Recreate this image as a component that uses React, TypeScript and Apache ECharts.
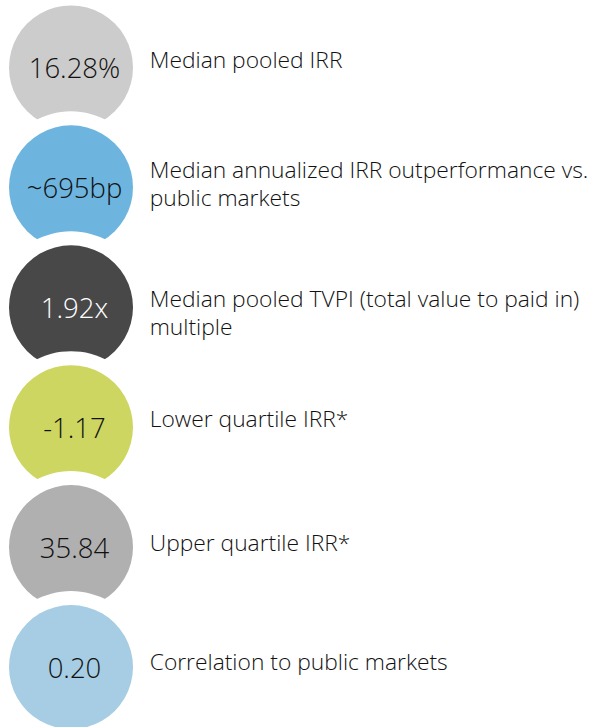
import React, { useEffect, useRef } from "react";
import * as echarts from "echarts";

const valueLabels = ["16.28%", "~695bp", "1.92x", "-1.17", "35.84", "0.20"];
const descriptions = [
  "Median pooled IRR",
  "Median annualized IRR outperformance vs.\npublic markets",
  "Median pooled TVPI (total value to paid in)\nmultiple",
  "Lower quartile IRR*",
  "Upper quartile IRR*",
  "Correlation to public markets",
];
const rowIndex = [0, 1, 2, 3, 4, 5];

const circleColors = ["#cccccc", "#6db5de", "#484848", "#ced662", "#b0b0b0", "#a6cde3"];
const valueTextColors = ["#111111", "#111111", "#ffffff", "#111111", "#111111", "#111111"];
const descOffsets = [-8, -4, 5, -9, -5, -6];

const FONT = "'Open Sans', 'Noto Sans', sans-serif";

export default function App() {
  const ref = useRef<HTMLDivElement>(null);
  useEffect(() => {
    document.body.style.margin = "0";
    if (!ref.current) return;
    const chart = echarts.init(ref.current, undefined, { renderer: "svg" });
    chart.setOption({
      animation: false,
      backgroundColor: "#ffffff",
      grid: { left: 71, width: 518, top: 7.5, height: 726 },
      xAxis: { type: "value", min: 0, max: 1, show: false },
      yAxis: { type: "value", min: -0.5, max: 5.5, inverse: true, show: false },
      series: [
        {
          type: "custom",
          coordinateSystem: "cartesian2d",
          clip: false,
          data: rowIndex.map((i) => [0, i]),
          renderItem: (params: any, api: any) => {
            const idx = params.dataIndex;
            const pt = api.coord([api.value(0), api.value(1)]);
            const cx = pt[0];
            const cy = pt[1];
            const descX = api.coord([0.152, 0])[0];
            return {
              type: "group",
              children: [
                { type: "circle", shape: { cx, cy, r: 76 }, style: { fill: "#ffffff" } },
                { type: "circle", shape: { cx, cy, r: 62 }, style: { fill: circleColors[idx] } },
                {
                  type: "text",
                  style: {
                    x: cx + 3.5,
                    y: cy,
                    text: valueLabels[idx],
                    align: "center",
                    verticalAlign: "middle",
                    fill: valueTextColors[idx],
                    font: "300 27.5px " + FONT,
                  },
                },
                {
                  type: "text",
                  style: {
                    x: descX,
                    y: cy + descOffsets[idx],
                    text: descriptions[idx],
                    align: "left",
                    verticalAlign: "middle",
                    fill: "#111111",
                    font: "300 22.8px " + FONT,
                    lineHeight: 28,
                  },
                },
              ],
            };
          },
        },
      ],
    });
    return () => chart.dispose();
  }, []);
  return <div ref={ref} style={{ width: 589, height: 727 }} />;
}
